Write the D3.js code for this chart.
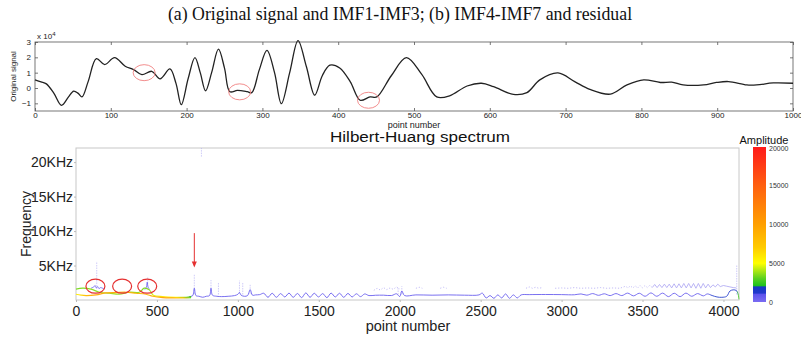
<!DOCTYPE html>
<html>
<head>
<meta charset="utf-8">
<script src="https://cdn.jsdelivr.net/npm/d3@7/dist/d3.min.js"></script>
<style>
  body { margin: 0; background: #fff; }
  svg { display: block; }
</style>
</head>
<body>
<svg id="chart" width="801" height="338"></svg>
<script>
// ---------- data: original signal (values in x1e4) ----------
const sigPoints = [0, 8, 15, 25, 35, 44, 51, 57, 62, 70, 81, 92, 105, 119, 130, 141, 154, 165, 178, 186, 193, 202, 211, 218, 225, 233, 242, 250, 257, 267, 280, 286, 296, 306, 316, 325, 336, 347, 358, 369, 379, 389, 402, 416, 429, 442, 451, 470, 490, 510, 530, 547, 570, 589, 605, 631, 649, 666, 690, 712, 732, 759, 781, 803, 825, 840, 855, 882, 899, 915, 939, 952, 974, 1000];
const sigValues = [0.53, 0.4, 0.27, -0.35, -1.13, -0.6, -0.2, -0.35, -0.58, 0.4, 1.91, 1.53, 1.98, 1.42, 1.2, 0.87, 1.09, 0.6, 1.24, 0.3, -1.09, 0.6, 1.98, 1.0, -0.18, 1.0, 2.53, 1.3, -0.24, -0.16, -0.24, -0.3, 1.2, 2.45, 1.0, -1.02, 1.0, 3.09, 1.4, -0.47, 0.8, 1.49, 1.31, 0.4, -0.8, -0.58, -0.58, 0.8, 1.98, 0.9, -0.58, -0.51, 0.13, 0.31, 0.09, -0.42, -0.3, 0.53, 0.98, 0.42, -0.09, -0.4, 0.2, 0.53, 0.36, 0.38, 0.2, 0.2, 0.36, 0.42, 0.2, 0.2, 0.33, 0.31];
const sigTicksX = [0, 100, 200, 300, 400, 500, 600, 700, 800, 900, 1000];
const sigTicksY = [-1, 0, 1, 2, 3];
const sigMarkPoints = [144, 270, 440];
const sigMarkValues = [1.0, -0.25, -0.8];

// ---------- data: Hilbert-Huang spectrum ----------
const hhtTicksX = [0, 500, 1000, 1500, 2000, 2500, 3000, 3500, 4000];
const hhtTicksY = [5000, 10000, 15000, 20000];
const hhtTickLabels = ['5KHz', '10KHz', '15KHz', '20KHz'];
const ampTicks = [0, 5000, 10000, 15000, 20000];

// low IMF (orange / yellow)
const orangePn = [0, 31, 62, 124, 185, 247, 309, 371, 433, 474, 536, 597, 659, 711];
const orangeHz = [833, 700, 637, 735, 1029, 1078, 1127, 980, 833, 539, 343, 294, 294, 343];
const orangeAmp = [5500, 6500, 8500, 9500, 9500, 9500, 9000, 9000, 8500, 9000, 10000, 9500, 8000, 3000];

// green IMF
const greenPn = [0, 41, 93, 144, 206, 268, 330, 391, 422, 453, 478, 536, 618, 680, 711];
const greenHz = [1569, 1716, 1569, 1127, 980, 833, 1127, 1127, 1716, 1470, 700, 490, 392, 392, 490];
const greenAmp = [3400, 3400, 3600, 3600, 3700, 3700, 3600, 3600, 3400, 3600, 4600, 6000, 5000, 3200, 2500];

// main blue trace
const bluePn = [700, 721, 731, 741, 760, 783, 805, 825, 834, 843, 870, 900, 940, 980, 1000, 1010, 1020, 1040, 1060, 1076, 1090, 1110, 1135,
  1160, 1186, 1212, 1238, 1264, 1290, 1316, 1342, 1368, 1394, 1420, 1446, 1472, 1498, 1524, 1550, 1576, 1602, 1628, 1654, 1680, 1706, 1732, 1758, 1784, 1810,
  1850, 1900, 1950, 1980, 2000, 2013, 2030, 2100, 2200, 2300, 2400, 2490,
  2510, 2534, 2558, 2582, 2606, 2630, 2654, 2678, 2702, 2726, 2750,
  2800, 2900, 3000, 3080,
  3120, 3156, 3192, 3228, 3264, 3300, 3336, 3372, 3408, 3444, 3480, 3516, 3552, 3588, 3624, 3660, 3696, 3732, 3768, 3804, 3840, 3876, 3900,
  3930, 3960, 3990, 4020, 4040, 4060, 4080, 4090, 4096];
const blueHz = [490, 640, 1700, 640, 540, 400, 540, 640, 1700, 700, 540, 490, 540, 640, 830, 1100, 700, 540, 640, 1500, 700, 740, 780,
  980, 390, 980, 390, 930, 440, 1000, 390, 950, 340, 1030, 390, 980, 440, 930, 340, 1000, 440, 980, 390, 950, 440, 900, 490, 880, 640,
  690, 700, 650, 900, 500, 1300, 640, 740, 700, 740, 700, 740,
  1000, 300, 640, 250, 740, 300, 880, 250, 740, 300, 740,
  780, 800, 780, 760,
  880, 700, 930, 680, 900, 640, 930, 640, 1000, 600, 980, 540, 1030, 540, 1000, 490, 980, 490, 1000, 540, 930, 600, 880,
  650, 440, 390, 540, 1300, 1470, 1370, 900, 100];
const blueAmp = [1200, 900, 900, 900, 800, 800, 800, 800, 800, 800, 800, 800, 800, 800, 800, 800, 800, 800, 800, 800, 800, 800, 800,
  800, 800, 800, 800, 800, 800, 800, 800, 800, 800, 800, 800, 800, 800, 800, 800, 800, 800, 800, 800, 800, 800, 800, 800, 800, 800,
  800, 800, 800, 800, 800, 800, 800, 800, 800, 800, 800, 800,
  800, 800, 800, 800, 800, 800, 800, 800, 800, 800, 800,
  800, 800, 800, 800,
  800, 800, 800, 800, 800, 800, 800, 800, 800, 800, 800, 800, 800, 800, 800, 800, 800, 800, 800, 800, 800, 900, 1000,
  1500, 1600, 1600, 1500, 1400, 1500, 1600, 2200, 3000];

// short blue squiggles inside the circled areas
const squigglePn = [93, 110, 118, 126, 134, 142, 152, 165, 175];
const squiggleHz = [1716, 1900, 2100, 1750, 1950, 1650, 1800, 1700, 1600];
const squiggleAmp = [800, 800, 800, 800, 800, 800, 800, 800, 800];
const squiggle2Pn = [425, 435, 440, 445, 455];
const squiggle2Hz = [1500, 1900, 2600, 1900, 1500];
const squiggle2Amp = [800, 800, 800, 800, 800];

// faint upper trace (dotted, with gaps = null)
const faintPn = [1840, 1860, 1880, 1900, 1920, 1940, 1960, 1980, 2000, 2020, 2100, 2120, 2140, 2160, 2250, 2270, 2290, 2310,
  2780, 2800, 2820, 2840, 2860, 2880, 2900, 2960, 3000, 3040, 3080, 3120, 3160, 3200, 3240, 3280, 3320, 3360, 3395, 3410, 3425, 3440, 3455, 3470, 3485, 3500, 3515, 3530, 3545, 3560];
const faintHz = [1400, 1700, 1450, 1800, 1500, 1750, 1550, 1900, 1600, null, 1700, 1850, 1700, null, 1700, 1850, 1700, null,
  1700, 1900, 1700, 1850, 1700, 1800, null, 1700, 1750, 1700, 1800, 1700, 1750, 1700, 1800, 1700, 1750, 1700, 2000, 1750, 2050, 1750, 2050, 1750, 2100, 1750, 2100, 1800, 2150, 1800];

// clearer zigzag near the end
const zigPn = [3560, 3575, 3590, 3605, 3620, 3635, 3650, 3665, 3680, 3695, 3710, 3725, 3740, 3755, 3770, 3785, 3800, 3815, 3830, 3845, 3860, 3875, 3890, 3905, 3920, 3935, 3950, 3965, 3980, 4000, 4020, 4040, 4060, 4080];
const zigHz = [1800, 2250, 1800, 2250, 1800, 2300, 1800, 2300, 1750, 2350, 1750, 2350, 1750, 2400, 1750, 2400, 1750, 2400, 1700, 2400, 1700, 2400, 1750, 2300, 1800, 2200, 1900, 2300, 1950, 2100, 2000, 1900, 1800, 1750];

// faint vertical spikes
const spikePn = [128, 443, 731, 834, 880, 1010, 1030, 1076, 1990, 2013, 4082, 775];
const spikeLow = [1600, 1600, 900, 900, 800, 900, 800, 900, 800, 800, 800, 20800];
const spikeHigh = [5600, 3400, 3800, 2900, 2500, 2800, 2600, 2200, 1800, 2000, 5000, 22050];

// red marks on the spectrum
const hhtMarkPn = [120, 285, 440];
const hhtMarkHz = [2000, 2000, 2000];
const arrowPn = 731;
const arrowHz = [9700, 4700];

// ---------- layout ----------
const svg = d3.select('#chart');
const defs = svg.append('defs');
const font = 'Liberation Sans, Arial, sans-serif';

svg.append('text')
  .attr('x', 400).attr('y', 20)
  .attr('text-anchor', 'middle')
  .attr('font-family', 'Liberation Serif, Times New Roman, serif')
  .attr('font-size', 17.8)
  .attr('fill', '#111')
  .text('(a) Original signal and IMF1-IMF3; (b) IMF4-IMF7 and residual');

// ---------- top panel ----------
const topBox = { left: 35, right: 793, top: 42, bottom: 111 };
const xs = d3.scaleLinear().domain([0, 1000]).range([topBox.left, topBox.right]);
const ys = d3.scaleLinear().domain([-1.5, 3]).range([topBox.bottom, topBox.top]);

const gTop = svg.append('g');

gTop.append('rect')
  .attr('x', topBox.left).attr('y', topBox.top)
  .attr('width', topBox.right - topBox.left).attr('height', topBox.bottom - topBox.top)
  .attr('fill', 'none').attr('stroke', '#555').attr('stroke-width', 0.8);

const axTopX = gTop.append('g')
  .attr('transform', 'translate(0,' + topBox.bottom + ')')
  .call(d3.axisBottom(xs).tickValues(sigTicksX).tickSize(-3).tickPadding(1).tickFormat(d3.format('d')));
const axTopX2 = gTop.append('g')
  .attr('transform', 'translate(0,' + topBox.top + ')')
  .call(d3.axisTop(xs).tickValues(sigTicksX).tickSize(-3).tickFormat(''));
const axTopY = gTop.append('g')
  .attr('transform', 'translate(' + topBox.left + ',0)')
  .call(d3.axisLeft(ys).tickValues(sigTicksY).tickSize(-3).tickPadding(4).tickFormat(d3.format('d')));
const axTopY2 = gTop.append('g')
  .attr('transform', 'translate(' + topBox.right + ',0)')
  .call(d3.axisRight(ys).tickValues(sigTicksY).tickSize(-3).tickFormat(''));

[axTopX, axTopX2, axTopY, axTopY2].forEach(a => {
  a.select('.domain').remove();
  a.selectAll('line').attr('stroke', '#555').attr('stroke-width', 0.8);
  a.selectAll('text').attr('font-family', font).attr('font-size', 8).attr('fill', '#222');
});

gTop.append('text')
  .attr('x', 37).attr('y', 39)
  .attr('font-family', font).attr('font-size', 8).attr('fill', '#222')
  .text('x 10')
  .append('tspan').attr('dy', -3).attr('font-size', 6).text('4');

gTop.append('text')
  .attr('transform', 'translate(16,' + ((topBox.top + topBox.bottom) / 2) + ') rotate(-90)')
  .attr('text-anchor', 'middle')
  .attr('font-family', font).attr('font-size', 8).attr('fill', '#222')
  .text('Original signal');

gTop.append('text')
  .attr('x', 414).attr('y', 127.5)
  .attr('text-anchor', 'middle')
  .attr('font-family', font).attr('font-size', 9).attr('fill', '#222')
  .text('point number');

const sigLine = d3.line()
  .x(d => xs(d[0])).y(d => ys(d[1]))
  .curve(d3.curveCatmullRom.alpha(0.5));

gTop.append('path')
  .datum(sigPoints.map((p, i) => [p, sigValues[i]]))
  .attr('d', sigLine)
  .attr('fill', 'none').attr('stroke', '#222').attr('stroke-width', 1.3);

gTop.selectAll('.mark')
  .data(sigMarkPoints)
  .enter().append('ellipse')
  .attr('cx', d => xs(d))
  .attr('cy', (d, i) => ys(sigMarkValues[i]))
  .attr('rx', 11).attr('ry', 8)
  .attr('fill', 'none').attr('stroke', '#f08080').attr('stroke-width', 0.9);

// ---------- bottom panel ----------
const botBox = { left: 76, right: 739, top: 148, bottom: 300 };
const xh = d3.scaleLinear().domain([0, 4096]).range([botBox.left, botBox.right]);
const yh = d3.scaleLinear().domain([0, 22050]).range([botBox.bottom, botBox.top]);

const color = d3.scaleLinear()
  .domain([0, 1000, 1150, 1950, 2100, 3000, 4300, 5000, 7000, 10000, 15000, 20000])
  .range(['#7a6cf2', '#5c52ec', '#2038cc', '#1838c4', '#1ec21e', '#58d020', '#c4ee10', '#ffff00', '#ffcc00', '#ffa000', '#ff6010', '#ff1a1a']);

const gBot = svg.append('g');

svg.append('text')
  .attr('x', 420).attr('y', 141.5)
  .attr('text-anchor', 'middle')
  .attr('font-family', font).attr('font-size', 14).attr('fill', '#111')
  .attr('textLength', 180).attr('lengthAdjust', 'spacingAndGlyphs')
  .text('Hilbert-Huang spectrum');

gBot.append('rect')
  .attr('x', botBox.left).attr('y', botBox.top)
  .attr('width', botBox.right - botBox.left).attr('height', botBox.bottom - botBox.top)
  .attr('fill', 'none').attr('stroke', '#c8c8c8').attr('stroke-width', 1);

const axBotX = gBot.append('g')
  .attr('transform', 'translate(0,' + botBox.bottom + ')')
  .call(d3.axisBottom(xh).tickValues(hhtTicksX).tickSize(2).tickPadding(4).tickFormat(d3.format('d')));
const axBotY = gBot.append('g')
  .attr('transform', 'translate(' + botBox.left + ',0)')
  .call(d3.axisLeft(yh).tickValues(hhtTicksY).tickSize(2).tickPadding(1)
    .tickFormat((d, i) => hhtTickLabels[i]));
[axBotX, axBotY].forEach(a => {
  a.select('.domain').remove();
  a.selectAll('line').attr('stroke', '#bbb');
  a.selectAll('text').attr('font-family', font).attr('font-size', 14).attr('fill', '#222');
});

gBot.append('text')
  .attr('x', 408).attr('y', 331)
  .attr('text-anchor', 'middle')
  .attr('font-family', font).attr('font-size', 14.5).attr('fill', '#222')
  .text('point number');

gBot.append('text')
  .attr('transform', 'translate(31,224) rotate(-90)')
  .attr('text-anchor', 'middle')
  .attr('font-family', font).attr('font-size', 14).attr('fill', '#222')
  .text('Frequency');

// faint spikes
gBot.selectAll('.spike')
  .data(spikePn)
  .enter().append('line')
  .attr('x1', d => xh(d)).attr('x2', d => xh(d))
  .attr('y1', (d, i) => yh(spikeLow[i])).attr('y2', (d, i) => yh(spikeHigh[i]))
  .attr('stroke', '#aaa4f4').attr('stroke-width', 1)
  .attr('stroke-dasharray', '1.5,1').attr('opacity', 0.55);

// faint upper trace
const faintLine = d3.line()
  .defined(d => d[1] !== null)
  .x(d => xh(d[0])).y(d => yh(d[1]));
gBot.append('path')
  .datum(faintPn.map((p, i) => [p, faintHz[i]]))
  .attr('d', faintLine)
  .attr('fill', 'none').attr('stroke', '#b4acf4').attr('stroke-width', 0.8)
  .attr('stroke-dasharray', '1.2,1.8');
gBot.append('path')
  .datum(zigPn.map((p, i) => [p, zigHz[i]]))
  .attr('d', faintLine)
  .attr('fill', 'none').attr('stroke', '#aaa2f2').attr('stroke-width', 0.8);

// coloured traces: a horizontal gradient carries the amplitude colour along each trace
const traceLine = d3.line()
  .x(d => xh(d[0])).y(d => yh(d[1]))
  .curve(d3.curveCatmullRom.alpha(0.5));

function drawTrace(id, pn, hz, amp, width, opacity) {
  const x0 = xh(pn[0]), x1 = xh(pn[pn.length - 1]);
  const g = defs.append('linearGradient')
    .attr('id', id)
    .attr('gradientUnits', 'userSpaceOnUse')
    .attr('x1', x0).attr('x2', x1).attr('y1', 0).attr('y2', 0);
  g.selectAll('stop')
    .data(pn)
    .enter().append('stop')
    .attr('offset', d => (xh(d) - x0) / (x1 - x0))
    .attr('stop-color', (d, i) => color(amp[i]));
  gBot.append('path')
    .datum(pn.map((p, i) => [p, hz[i]]))
    .attr('d', traceLine)
    .attr('fill', 'none')
    .attr('stroke', 'url(#' + id + ')')
    .attr('stroke-width', width)
    .attr('stroke-opacity', opacity)
    .attr('stroke-linejoin', 'round');
}

drawTrace('trBlue', bluePn, blueHz, blueAmp, 1, 0.85);
drawTrace('trSq1', squigglePn, squiggleHz, squiggleAmp, 0.9, 0.85);
drawTrace('trSq2', squiggle2Pn, squiggle2Hz, squiggle2Amp, 0.9, 0.85);
drawTrace('trGreen', greenPn, greenHz, greenAmp, 1.2, 0.95);
drawTrace('trOrange', orangePn, orangeHz, orangeAmp, 1.2, 0.95);

// red circles + arrow
gBot.selectAll('.hmark')
  .data(hhtMarkPn)
  .enter().append('ellipse')
  .attr('cx', d => xh(d)).attr('cy', (d, i) => yh(hhtMarkHz[i]))
  .attr('rx', 9.5).attr('ry', 7)
  .attr('fill', 'none').attr('stroke', '#e53030').attr('stroke-width', 1.2);

const ax = xh(arrowPn);
gBot.append('line')
  .attr('x1', ax).attr('x2', ax)
  .attr('y1', yh(arrowHz[0])).attr('y2', yh(arrowHz[1]) - 4)
  .attr('stroke', '#e53030').attr('stroke-width', 1);
gBot.append('path')
  .attr('d', 'M' + (ax - 2.5) + ',' + (yh(arrowHz[1]) - 6) + 'L' + (ax + 2.5) + ',' + (yh(arrowHz[1]) - 6) + 'L' + ax + ',' + yh(arrowHz[1]) + 'Z')
  .attr('fill', '#e53030');

// ---------- colour bar ----------
const cb = { left: 753, width: 13, top: 147, bottom: 302 };
const yc = d3.scaleLinear().domain([0, 20000]).range([cb.bottom, cb.top]);

const grad = defs.append('linearGradient')
  .attr('id', 'ampGrad')
  .attr('x1', 0).attr('y1', 1).attr('x2', 0).attr('y2', 0);
grad.selectAll('stop')
  .data(color.domain())
  .enter().append('stop')
  .attr('offset', d => d / 20000)
  .attr('stop-color', d => color(d));

svg.append('rect')
  .attr('x', cb.left).attr('y', cb.top)
  .attr('width', cb.width).attr('height', cb.bottom - cb.top)
  .attr('fill', 'url(#ampGrad)');

svg.selectAll('.cbtick')
  .data(ampTicks)
  .enter().append('text')
  .attr('x', cb.left + cb.width + 3)
  .attr('y', d => yc(d) + (d === 20000 ? 4 : 2.5))
  .attr('font-family', font).attr('font-size', 7).attr('fill', '#333')
  .text(d => d);

svg.append('text')
  .attr('x', 764).attr('y', 144)
  .attr('text-anchor', 'middle')
  .attr('font-family', font).attr('font-size', 11).attr('fill', '#111')
  .text('Amplitude');
</script>
</body>
</html>
